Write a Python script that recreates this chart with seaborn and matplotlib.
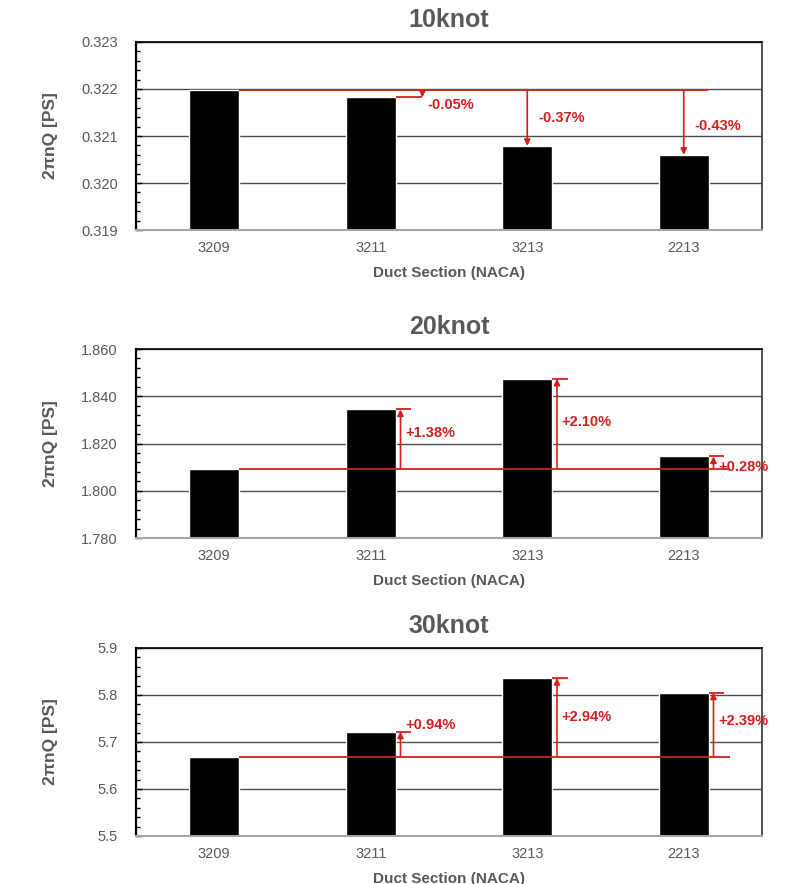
import numpy as np
import pandas as pd
import seaborn as sns
import matplotlib.pyplot as plt
import matplotlib.ticker as plticker

sections = ['3209', '3211', '3213', '2213']

values_10knot = [0.32198, 0.32182, 0.32079, 0.32060]
values_20knot = [1.8094, 1.8344, 1.8474, 1.8145]
values_30knot = [5.669, 5.722, 5.836, 5.805]

labels_10knot = ['-0.05%', '-0.37%', '-0.43%']
labels_20knot = ['+1.38%', '+2.10%', '+0.28%']
labels_30knot = ['+0.94%', '+2.94%', '+2.39%']

yticks_10knot = [0.319, 0.320, 0.321, 0.322, 0.323]
yticks_20knot = [1.780, 1.800, 1.820, 1.840, 1.860]
yticks_30knot = [5.5, 5.6, 5.7, 5.8, 5.9]

RED = '#d41e1e'
GREY = '#595959'
BAR_W = 0.32


def style_axes(ax, title, yticks, fmt):
    ax.set_ylim(yticks[0], yticks[-1])
    ax.set_yticks(yticks)
    ax.yaxis.set_major_formatter(plticker.FormatStrFormatter(fmt))
    ax.yaxis.set_minor_locator(plticker.AutoMinorLocator(5))
    ax.tick_params(axis='y', which='both', direction='in', left=True, colors='black',
                   labelcolor=GREY, labelsize=10.5, pad=13)
    ax.tick_params(axis='y', which='major', length=4, width=1)
    ax.tick_params(axis='y', which='minor', length=3, width=1)
    ax.tick_params(axis='x', length=0, labelcolor=GREY, labelsize=10.5, pad=8)
    ax.yaxis.grid(True, color='#4d4d4d', lw=1)
    ax.set_axisbelow(True)
    ax.spines['left'].set(color='black', lw=1.6)
    ax.spines['top'].set(color='black', lw=1.2)
    ax.spines['right'].set(color='#333333', lw=1.2)
    ax.spines['bottom'].set(color='#a6a6a6', lw=1.5)
    ax.set_title(title, fontsize=18, fontweight='bold', color=GREY, pad=11)
    ax.set_xlabel('Duct Section (NACA)', fontsize=11, fontweight='bold', color=GREY)
    ax.set_ylabel('2πnQ [PS]', fontsize=12.5, fontweight='bold', color=GREY)
    ax.xaxis.set_label_coords(0.5, -0.19)
    ax.yaxis.set_label_coords(-0.125, 0.5)


def plot_panel(ax, title, values, labels, yticks, fmt, arrow_x, line_end, cap, nudges):
    df = pd.DataFrame({'Section': sections, 'Value': values})
    sns.barplot(data=df, x='Section', y='Value', order=sections, color='black',
                saturation=1, width=BAR_W, ax=ax)
    style_axes(ax, title, yticks, fmt)

    base = values[0]
    ax.hlines(base, BAR_W / 2, line_end, color=RED, lw=1.3, zorder=4)
    for i, (v, t, dx, ny) in enumerate(zip(values[1:], labels, arrow_x, nudges), start=1):
        x = i + dx
        ax.annotate('', xy=(x, v), xytext=(x, base),
                    arrowprops=dict(arrowstyle='-|>', color=RED, lw=1.2, mutation_scale=9,
                                    shrinkA=0, shrinkB=0), zorder=5)
        if cap is not None:
            ax.hlines(v, i + BAR_W / 2, i + max(cap, dx), color=RED, lw=1.3, zorder=4)
        lx = x + (0.03 if dx > 0.05 else 0.07)
        ax.annotate(t, xy=(lx, (v + base) / 2), xytext=(0, ny), textcoords='offset points',
                    ha='left', va='center', color=RED, fontsize=10.5, fontweight='bold',
                    zorder=6)
    ax.set_xlim(-0.5, len(sections) - 0.5)


sns.set_style('white')
plt.rcParams['font.family'] = ['Liberation Sans', 'DejaVu Sans']

fig = plt.figure(figsize=(8, 8.84), dpi=100)
ax1 = fig.add_axes([0.17, 0.7398, 0.7825, 0.2127])
ax2 = fig.add_axes([0.17, 0.3914, 0.7825, 0.2138])
ax3 = fig.add_axes([0.17, 0.0543, 0.7825, 0.2127])

plot_panel(ax1, '10knot', values_10knot, labels_10knot, yticks_10knot, '%.3f',
           arrow_x=[0.33, 0.0, 0.0], line_end=3.155, cap=None, nudges=[-8, 0, -2.5])
# the first 10knot arrow has a short leader from the bar edge
ax1.hlines(values_10knot[1], 1 + BAR_W / 2, 1.33, color=RED, lw=1.3, zorder=4)

plot_panel(ax2, '20knot', values_20knot, labels_20knot, yticks_20knot, '%.3f',
           arrow_x=[0.19, 0.19, 0.19], line_end=3.295, cap=0.26, nudges=[4.5, 1, -3.5])
plot_panel(ax3, '30knot', values_30knot, labels_30knot, yticks_30knot, '%.1f',
           arrow_x=[0.19, 0.19, 0.19], line_end=3.295, cap=0.26, nudges=[13.5, 0.5, 2.5])

fig.savefig('out.png', dpi=100)
